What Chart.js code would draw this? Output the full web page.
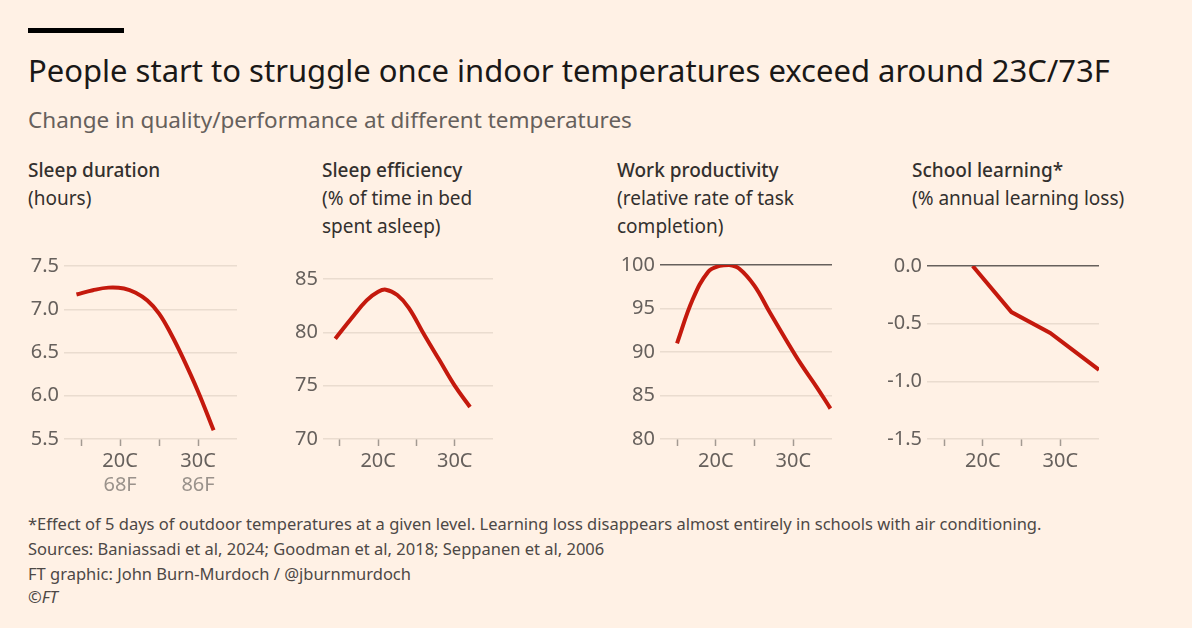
<!DOCTYPE html>
<html><head><meta charset="utf-8">
<script src="https://cdn.jsdelivr.net/npm/chart.js@4"></script>
<style>
body{margin:0;background:#fff1e5;font-family:"Noto Sans",sans-serif;color:#33302e;width:1192px;height:628px;position:relative;overflow:hidden}
.bar{position:absolute;left:28px;top:28px;width:96px;height:5px;background:#000}
.t{position:absolute;white-space:nowrap}
h1{position:absolute;left:28px;top:49px;margin:0;font-weight:400;font-size:31px;color:#1a1817}
.sub{left:28px;top:104px;font-size:22.5px;color:#66605c}
.hd{font-size:19px;line-height:28px;color:#33302e}
.hd b{font-weight:500}
.fn{left:28px;font-size:16.5px;color:#4d4845}
canvas{position:absolute}
</style></head><body>
<div class="bar"></div>
<h1>People start to struggle once indoor temperatures exceed around 23C/73F</h1>
<div class="t sub">Change in quality/performance at different temperatures</div>
<div class="t hd" style="left:28px;top:156px"><b>Sleep duration</b><br>(hours)</div>
<div class="t hd" style="left:322px;top:156px"><b>Sleep efficiency</b><br>(% of time in bed<br>spent asleep)</div>
<div class="t hd" style="left:617px;top:156px"><b>Work productivity</b><br>(relative rate of task<br>completion)</div>
<div class="t hd" style="left:912px;top:156px"><b>School learning*</b><br>(% annual learning loss)</div>
<div class="t fn" style="top:512px">*Effect of 5 days of outdoor temperatures at a given level. Learning loss disappears almost entirely in schools with air conditioning.</div>
<div class="t fn" style="top:537px">Sources: Baniassadi et al, 2024; Goodman et al, 2018; Seppanen et al, 2006</div>
<div class="t fn" style="top:562px">FT graphic: John Burn-Murdoch / @jburnmurdoch</div>
<div class="t fn" style="top:585px;font-style:italic">©FT</div>
<canvas id="c1" style="left:20px;top:249px" width="222" height="250"></canvas>
<canvas id="c2" style="left:279px;top:262px" width="219" height="237"></canvas>
<canvas id="c3" style="left:616px;top:248px" width="221" height="251"></canvas>
<canvas id="c4" style="left:883px;top:249px" width="221" height="250"></canvas>
<script>
const xTicks = [15, 20, 25, 30];
const sleepDurX = [14.4, 16.5, 18.5, 20.5, 22, 23.5, 25, 26.5, 28, 30, 32];
const sleepDurY = [7.17, 7.22, 7.25, 7.24, 7.19, 7.1, 6.95, 6.72, 6.45, 6.05, 5.6];
const sleepEffX = [14.4, 16.5, 18.5, 20, 21, 22.5, 24, 26, 28, 30, 32];
const sleepEffY = [79.4, 81.3, 83, 83.8, 84, 83.5, 82.3, 79.8, 77.4, 75.0, 73];
const workX = [15, 17, 19, 20.5, 21.7, 23, 25, 27, 29, 31, 33, 34.8];
const workY = [91, 96, 99.2, 99.9, 100, 99.6, 97.6, 94.5, 91.5, 88.6, 86.0, 83.5];
const schoolX = [18.7, 23.7, 28.7, 35];
const schoolY = [0, -0.4, -0.58, -0.9];
const fahrenheit = {20: '68F', 30: '86F'};

function fLabels(chart) {
    const ctx = chart.ctx, sx = chart.scales.x;
    ctx.save();
    ctx.font = '20px "Noto Sans"';
    ctx.fillStyle = '#9a928b';
    ctx.textAlign = 'center';
    ctx.textBaseline = 'top';
    for (const k in fahrenheit) ctx.fillText(fahrenheit[k], sx.getPixelForValue(+k), chart.chartArea.bottom + 36);
    ctx.restore();
}

function makeChart(id, xs, ys, yMin, yMax, step, dec, refLine, tension, withF) {
    new Chart(document.getElementById(id), {
        type: 'line',
        data: {datasets: [{
            data: xs.map((x, i) => ({x: x, y: ys[i]})),
            borderColor: '#c4190d', borderWidth: 4, pointRadius: 0,
            tension: tension, borderCapStyle: 'butt'
        }]},
        options: {
            responsive: false, animation: false,
            layout: {padding: {top: 8, right: 5, left: 0, bottom: 0}},
            plugins: {legend: {display: false}, tooltip: {enabled: false}},
            scales: {
                x: {type: 'linear', min: 12.8, max: 35,
                    afterBuildTicks: s => { s.ticks = xTicks.map(v => ({value: v})); },
                    afterFit: s => { s.height = 60; },
                    border: {display: false},
                    grid: {drawOnChartArea: false, drawTicks: true, tickLength: 7, color: '#a39a92', tickWidth: 1.5},
                    ticks: {color: '#66605c', font: {size: 20, family: 'Noto Sans'}, padding: 3, maxRotation: 0,
                        callback: v => (v === 20 || v === 30) ? v + 'C' : ''}},
                y: {min: yMin, max: yMax,
                    afterFit: s => { s.width = 44; },
                    border: {display: false},
                    grid: {drawTicks: false, lineWidth: 1.5,
                        color: c => (refLine !== null && c.tick && c.tick.value === refLine) ? '#66605c' : '#eadccf'},
                    ticks: {stepSize: step, color: '#66605c', font: {size: 20, family: 'Noto Sans'}, padding: 5,
                        callback: v => v.toFixed(dec)}}
            }
        },
        plugins: withF ? [{id: 'f', afterDraw: fLabels}] : []
    });
}

makeChart('c1', sleepDurX, sleepDurY, 5.5, 7.5, 0.5, 1, null, 0.4, true);
makeChart('c2', sleepEffX, sleepEffY, 70, 85, 5, 0, null, 0.4, false);
makeChart('c3', workX, workY, 80, 100, 5, 0, 100, 0.4, false);
makeChart('c4', schoolX, schoolY, -1.5, 0, 0.5, 1, 0, 0, false);
</script>
</body></html>
